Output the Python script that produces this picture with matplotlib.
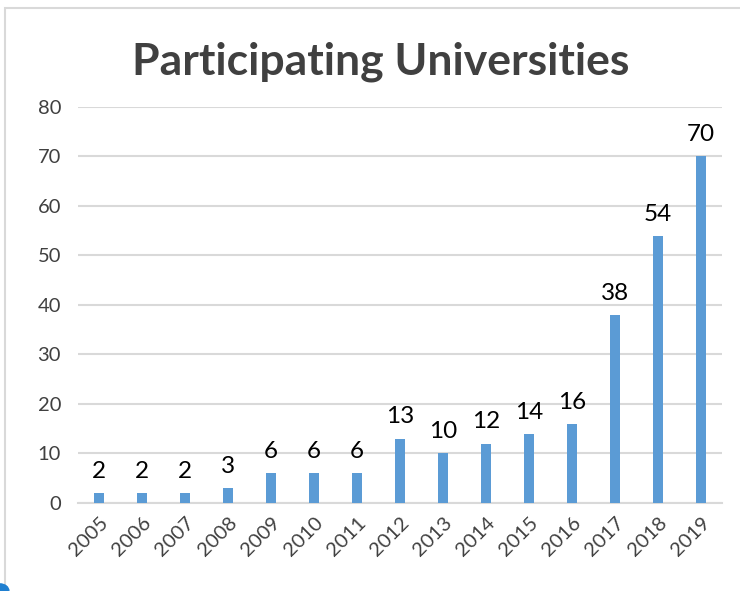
import matplotlib.pyplot as plt
import matplotlib.patches as patches

# ======================
# Data
# ======================
years = [str(y) for y in range(2005, 2020)]
universities = [2, 2, 2, 3, 6, 6, 6, 13, 10, 12, 14, 16, 38, 54, 70]

bar_color = "#5B9BD5"
grid_color = "#D9D9D9"
text_color = "#404040"

plt.rcParams["font.family"] = ["Lato", "DejaVu Sans"]

# ======================
# Figure
# ======================
fig = plt.figure(figsize=(7.4, 5.91), dpi=100)
ax = fig.add_axes([0.105, 0.149, 0.871, 0.670])

x = range(len(years))
ax.bar(x, universities, width=0.23, color=bar_color, zorder=3)

for xi, v in zip(x, universities):
    ax.annotate(str(v), (xi, v), xytext=(0, 8), textcoords="offset points",
                ha="center", va="bottom", fontsize=17.5, color="black")

ax.set_xlim(-0.5, len(years) - 0.5)
ax.set_ylim(0, 80)
ax.set_yticks(range(0, 81, 10))
ax.set_xticks(list(x))
ax.set_xticklabels(years, rotation=45, ha="right", rotation_mode="anchor",
                   fontsize=14.5, color=text_color)
ax.tick_params(axis="y", labelsize=14.5, labelcolor=text_color, length=0, pad=12)
ax.tick_params(axis="x", length=0, pad=8)

ax.grid(axis="y", color=grid_color, linewidth=1.5, zorder=0)
for s in ["top", "right", "left"]:
    ax.spines[s].set_visible(False)
ax.spines["bottom"].set_color(grid_color)
ax.spines["bottom"].set_linewidth(1.5)

fig.text(0.514, 0.895, "Participating Universities", ha="center", va="center",
         fontsize=32, fontweight="bold", color=text_color)

# chart border
fig.patches.append(patches.Rectangle((5 / 740, -0.01), 1.0, 1 - 8 / 591 + 0.01,
                                     transform=fig.transFigure, fill=False,
                                     edgecolor="#D9D9D9", linewidth=1.5))
# small blue marker at bottom-left corner
fig.patches.append(patches.Circle((0, 0), 0.012, transform=fig.transFigure,
                                  color="#1F7FD0"))

fig.savefig("out.png", dpi=100, facecolor="white")
